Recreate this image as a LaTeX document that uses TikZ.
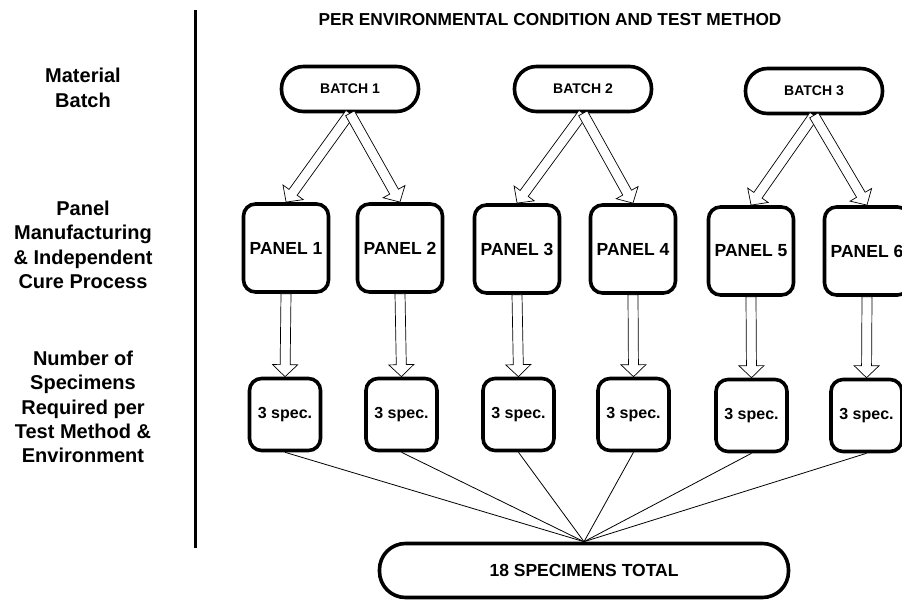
\documentclass[tikz,border=0pt]{standalone}
\usepackage{fontspec}
\setmainfont{Liberation Sans}
\usetikzlibrary{calc}
\tikzset{
  box/.style={draw, line width=3.6pt, rounded corners=12pt, fill=white, inner sep=0pt, align=center, font=\bfseries},
  pill/.style={box, rounded corners=22pt},
  arrowline/.style={draw, fill=white, line width=0.7pt, line join=miter},
  conn/.style={line width=0.8pt},
  lbl/.style={align=center, font=\fontsize{20}{24.4}\selectfont\bfseries}
}
\newcommand{\harrow}[2]{\path[arrowline] let \p1=(#1), \p2=(#2), \n1={atan2(\y2-\y1,\x2-\x1)}, \n2={veclen(\x2-\x1,\y2-\y1)} in [shift={(\p1)}, rotate=\n1] (0,-5) -- ({\n2-12},-5) -- ({\n2-12},-12.5) -- (\n2,0) -- ({\n2-12},12.5) -- ({\n2-12},5) -- (0,5) -- cycle;}
\begin{document}
\begin{tikzpicture}[x=1pt,y=-1pt]
\useasboundingbox (0,0) rectangle (902,601);
\clip (0,0) rectangle (902,601);
\fill[white] (0,0) rectangle (902,601);
% title and left labels
\node[font=\fontsize{17.3}{20}\selectfont\bfseries] (title) at (550,20) {PER ENVIRONMENTAL CONDITION AND TEST METHOD};
\node[lbl] (l1) at (83,88) {Material\\Batch};
\node[lbl] (l2) at (83,245) {Panel\\Manufacturing\\\& Independent\\Cure Process};
\node[lbl] (l3) at (83,407) {Number of\\Specimens\\Required per\\Test Method \&\\Environment};
\coordinate (vtop) at (195,10);
\coordinate (vbot) at (195,548);
\draw[line width=3pt] (vtop) -- (vbot);
% batches
\foreach \k/\x/\y in {1/350/89, 2/583/89, 3/814/91}
  {\node[pill, minimum width=137, minimum height=45, font=\fontsize{14}{16}\selectfont\bfseries] (b\k) at (\x,\y) {BATCH \k};}
% panels
\foreach \k/\x/\y in {1/286/248, 2/400/248, 3/517/249, 4/633/249, 5/751/251, 6/867/251}
  {\node[box, minimum width=85, minimum height=88, font=\fontsize{17.5}{20}\selectfont\bfseries] (p\k) at (\x,\y) {PANEL \k};}
% specimens
\foreach \k/\x/\y in {1/285/414.5, 2/401.5/414.5, 3/518.5/414.5, 4/633.5/414.5, 5/751.5/415.5, 6/866.5/415.5}
  {\node[box, minimum width=71, minimum height=72, font=\fontsize{16}{19}\selectfont\bfseries] (s\k) at (\x,\y) {3 spec.};}
% total
\node[box, rounded corners=26pt, minimum width=409, minimum height=54, font=\fontsize{17.5}{20}\selectfont\bfseries] (total) at (584,570.5) {18 SPECIMENS TOTAL};
% connectors to total
\foreach \k in {1,...,6}
  {\draw[conn] (s\k.south) -- (total.north);}
% hollow arrows batch -> panel
\harrow{b1.south}{p1.north}
\harrow{b1.south}{p2.north}
\harrow{b2.south}{p3.north}
\harrow{b2.south}{p4.north}
\harrow{b3.south}{p5.north}
\harrow{b3.south}{p6.north}
% hollow arrows panel -> specimens
\harrow{p1.south}{s1.north}
\harrow{p2.south}{s2.north}
\harrow{p3.south}{s3.north}
\harrow{p4.south}{s4.north}
\harrow{p5.south}{s5.north}
\harrow{p6.south}{s6.north}
\end{tikzpicture}
\end{document}
